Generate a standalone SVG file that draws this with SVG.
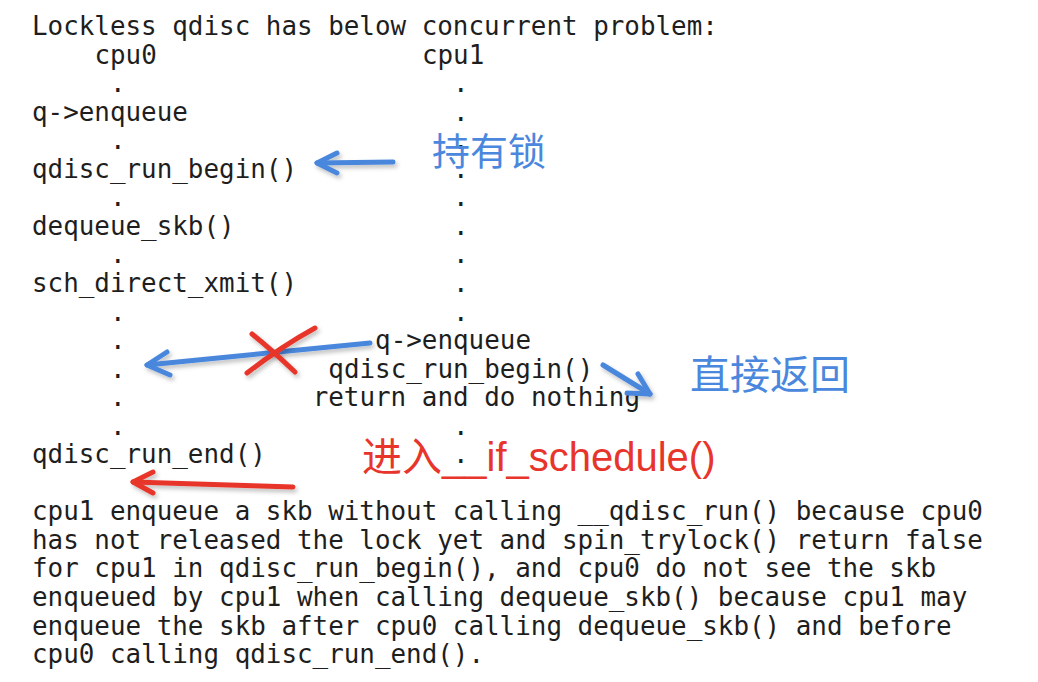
<svg xmlns="http://www.w3.org/2000/svg" width="1038" height="682" viewBox="0 0 1038 682">
<defs>
<style>
.m{font-family:"DejaVu Sans Mono","Liberation Mono",monospace;font-size:25.9px;fill:#1e1e1e;}
.blue{fill:#4a87dd;font-family:"Noto Sans CJK SC","Noto Sans",sans-serif;}
.red{fill:#e8352b;font-family:"Liberation Sans","Noto Sans CJK SC",sans-serif;font-size:40px;}
.ab{fill:none;stroke:#4a87dd;stroke-width:5;stroke-linecap:round;stroke-linejoin:round;}
.ar{fill:none;stroke:#e8352b;stroke-width:5;stroke-linecap:round;stroke-linejoin:round;}
</style>
<filter id="sh" x="-20%" y="-50%" width="140%" height="200%">
<feDropShadow dx="2" dy="3" stdDeviation="2" flood-color="#000" flood-opacity="0.25"/>
</filter>
</defs>
<rect width="1038" height="682" fill="#ffffff"/>
<g id="code">
<text class="m">
<tspan x="32" y="35">Lockless qdisc has below concurrent problem:</tspan>
<tspan x="94.4" y="63.55">cpu0</tspan><tspan x="421.9" y="63.55">cpu1</tspan>
<tspan x="110" y="92.1">.</tspan><tspan x="453" y="92.1">.</tspan>
<tspan x="32" y="120.65">q-&gt;enqueue</tspan><tspan x="453" y="120.65">.</tspan>
<tspan x="110" y="149.2">.</tspan><tspan x="453" y="149.2">.</tspan>
<tspan x="32" y="177.75">qdisc_run_begin()</tspan><tspan x="453" y="177.75">.</tspan>
<tspan x="110" y="206.3">.</tspan><tspan x="453" y="206.3">.</tspan>
<tspan x="32" y="234.85">dequeue_skb()</tspan><tspan x="453" y="234.85">.</tspan>
<tspan x="110" y="263.4">.</tspan><tspan x="453" y="263.4">.</tspan>
<tspan x="32" y="291.95">sch_direct_xmit()</tspan><tspan x="453" y="291.95">.</tspan>
<tspan x="110" y="320.5">.</tspan><tspan x="453" y="320.5">.</tspan>
<tspan x="110" y="349.05">.</tspan><tspan x="375.1" y="349.05">q-&gt;enqueue</tspan>
<tspan x="110" y="377.6">.</tspan><tspan x="328.3" y="377.6">qdisc_run_begin()</tspan>
<tspan x="110" y="406.15">.</tspan><tspan x="312.7" y="406.15">return and do nothing</tspan>
<tspan x="110" y="434.7">.</tspan><tspan x="453" y="434.7">.</tspan>
<tspan x="32" y="463.25">qdisc_run_end()</tspan><tspan x="453" y="463.25">.</tspan>
</text>
</g>
<g id="explanation">
<text class="m">
<tspan x="32" y="520.35">cpu1 enqueue a skb without calling __qdisc_run() because cpu0</tspan>
<tspan x="32" y="548.9">has not released the lock yet and spin_trylock() return false</tspan>
<tspan x="32" y="577.45">for cpu1 in qdisc_run_begin(), and cpu0 do not see the skb</tspan>
<tspan x="32" y="606">enqueued by cpu1 when calling dequeue_skb() because cpu1 may</tspan>
<tspan x="32" y="634.55">enqueue the skb after cpu0 calling dequeue_skb() and before</tspan>
<tspan x="32" y="663.1">cpu0 calling qdisc_run_end().</tspan>
</text>
</g>
<g id="connectors">
<g id="arrow-lock" class="ab" filter="url(#sh)">
<path d="M393,162 L317,163"/>
<path d="M337,153 L317,163 L337,173"/>
</g>
<g id="arrow-blocked" class="ab" filter="url(#sh)">
<path d="M370,343 L147,365"/>
<path d="M167,352 L147,365 L170,375"/>
</g>
<g id="cross" class="ar" filter="url(#sh)">
<path d="M252,334 Q272,350 295,372"/>
<path d="M315,328 Q282,346 247,373"/>
</g>
<g id="arrow-return" class="ab" filter="url(#sh)">
<path d="M603,365 L650,394"/>
<path d="M638,374 L650,394 L627,393"/>
</g>
<g id="arrow-schedule" class="ar" filter="url(#sh)">
<path d="M293,487 L133,482"/>
<path d="M153,472 L133,482 L153,493"/>
</g>
</g>
<g id="label-lock"><text class="blue" x="432" y="165" font-size="38">持有锁</text></g>
<g id="label-return"><text class="blue" x="690" y="389" font-size="40">直接返回</text></g>
<g id="label-schedule"><text class="red" x="362" y="471">进入__if_schedule()</text></g>
</svg>
